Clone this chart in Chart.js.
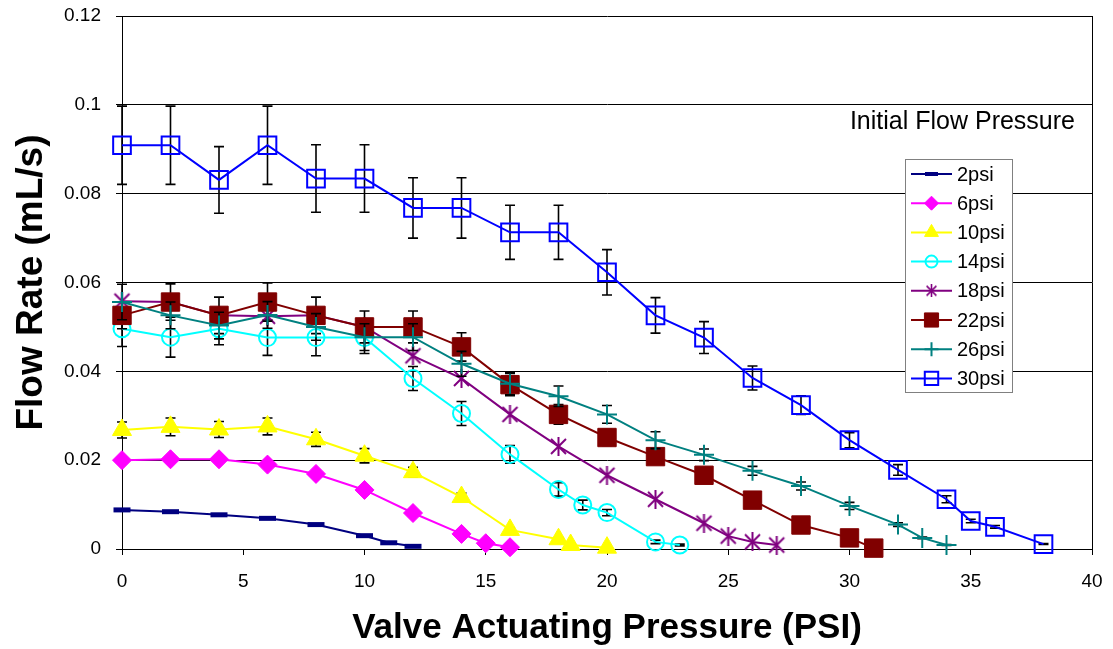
<!DOCTYPE html>
<html>
<head>
<meta charset="utf-8">
<script src="https://cdn.jsdelivr.net/npm/chart.js@4"></script>
<style>
  body { margin: 0; background: #fff; }
  canvas { display: block; }
</style>
</head>
<body>
<canvas id="flowChart" width="1113" height="649"></canvas>
<script>
// valve actuating pressure (x) and flow rate (y) per initial flow pressure
const vap2 = [0, 2, 4, 6, 8, 10, 11, 12];
const flow2 = [0.0088, 0.0084, 0.0077, 0.0069, 0.0055, 0.003, 0.0014, 0.0006];

const vap6 = [0, 2, 4, 6, 8, 10, 12, 14, 15, 16];
const flow6 = [0.02, 0.0202, 0.0202, 0.019, 0.0169, 0.0133, 0.0081, 0.0034, 0.0013, 0.0004];

const vap10 = [0, 2, 4, 6, 8, 10, 12, 14, 16, 18, 18.5, 20];
const flow10 = [0.0268, 0.0275, 0.0269, 0.0276, 0.0247, 0.021, 0.0173, 0.0117, 0.0043, 0.0022, 0.0009, 0.0003];
const err10 = [0.0018, 0.002, 0.0018, 0.0019, 0.0016, 0.0016, 0.0011, 0.0009, 0.0004, 0.0003, 0.0002, 0.0001];

const vap14 = [0, 2, 4, 6, 8, 10, 12, 14, 16, 18, 19, 20, 22, 23];
const flow14 = [0.0496, 0.0477, 0.0496, 0.0476, 0.0476, 0.0476, 0.0384, 0.0305, 0.0213, 0.0134, 0.0099, 0.0082, 0.0016, 0.0009];
const err14 = [0.004, 0.0045, 0.0036, 0.004, 0.0041, 0.0036, 0.0027, 0.0027, 0.002, 0.0015, 0.0011, 0.0007, 0.0004, 0.0002];

const vap18 = [0, 2, 4, 6, 8, 10, 12, 14, 16, 18, 20, 22, 24, 25, 26, 27];
const flow18 = [0.0558, 0.0556, 0.0526, 0.0524, 0.0526, 0.05, 0.0435, 0.0384, 0.0303, 0.0231, 0.0166, 0.0112, 0.0058, 0.0029, 0.0016, 0.0009];

const vap22 = [0, 2, 4, 6, 8, 10, 12, 14, 16, 18, 20, 22, 24, 26, 28, 30, 31];
const flow22 = [0.0526, 0.0556, 0.0526, 0.0556, 0.0526, 0.05, 0.05, 0.0455, 0.037, 0.0303, 0.0251, 0.0208, 0.0166, 0.011, 0.0054, 0.0025, 0.0002];
const err22 = [0.003, 0.0041, 0.0041, 0.0043, 0.0041, 0.0036, 0.0036, 0.0032, 0.0025, 0.0022, 0.0018, 0.0015, 0.0012, 0.001, 0.0008, 0.0005, 0.0002];

const vap26 = [0, 2, 4, 6, 8, 10, 12, 14, 16, 18, 20, 22, 24, 26, 28, 30, 32, 33, 34];
const flow26 = [0.0556, 0.0526, 0.0503, 0.0527, 0.05, 0.0477, 0.0477, 0.0417, 0.0372, 0.0344, 0.0303, 0.0245, 0.0212, 0.0176, 0.0142, 0.0097, 0.0055, 0.0025, 0.0009];
const err26 = [0.004, 0.003, 0.003, 0.003, 0.003, 0.003, 0.003, 0.0028, 0.0025, 0.0023, 0.002, 0.0019, 0.0013, 0.001, 0.0009, 0.0008, 0.0004, 0.0002, 0.0001];

const vap30 = [0, 2, 4, 6, 8, 10, 12, 14, 16, 18, 20, 22, 24, 26, 28, 30, 32, 34, 35, 36, 38];
const flow30 = [0.0909, 0.0909, 0.0831, 0.0909, 0.0834, 0.0834, 0.0768, 0.0768, 0.0713, 0.0713, 0.0623, 0.0526, 0.0476, 0.0385, 0.0324, 0.0245, 0.0178, 0.0112, 0.0063, 0.005, 0.0011];
const err30 = [0.0088, 0.0088, 0.0075, 0.0088, 0.0076, 0.0076, 0.0068, 0.0068, 0.0061, 0.0061, 0.0051, 0.004, 0.0036, 0.0027, 0.0021, 0.0017, 0.0012, 0.0008, 0.0004, 0.0003, 0.0001];

const seriesNames = ['2psi', '6psi', '10psi', '14psi', '18psi', '22psi', '26psi', '30psi'];
const xTickLabels = ['0', '5', '10', '15', '20', '25', '30', '35', '40'];
const yTickLabels = ['0', '0.02', '0.04', '0.06', '0.08', '0.1', '0.12'];

const FONT = '"Liberation Sans", Arial, sans-serif';

// asterisk marker: an X with a vertical stroke
function makeStar(size, color, lw) {
    const c = document.createElement('canvas');
    c.width = size; c.height = size;
    const g = c.getContext('2d');
    const m = lw, s = size - lw;
    g.strokeStyle = color;
    g.lineWidth = lw;
    g.beginPath();
    g.moveTo(m, m); g.lineTo(s, s);
    g.moveTo(s, m); g.lineTo(m, s);
    g.moveTo(size / 2, 0); g.lineTo(size / 2, size);
    g.stroke();
    return c;
}

const pairs = (xs, ys) => xs.map((x, i) => ({ x: x, y: ys[i] }));

const styles = [
    { color: '#000080', pointStyle: 'line', radius: 8.5, pointBorderWidth: 5, fill: '#000080', legendRadius: 6.5 },
    { color: '#FF00FF', pointStyle: 'rectRot', radius: 9.5, pointBorderWidth: 1, fill: '#FF00FF', legendRadius: 7 },
    { color: '#FFFF00', pointStyle: 'triangle', radius: 11, pointBorderWidth: 1, fill: '#FFFF00', legendRadius: 8 },
    { color: '#00FFFF', pointStyle: 'circle', radius: 8.5, pointBorderWidth: 2, fill: 'transparent', legendRadius: 6 },
    { color: '#800080', pointStyle: makeStar(19, '#800080', 2), radius: 9, pointBorderWidth: 1, fill: '#800080',
      legendStyle: makeStar(13, '#800080', 1.6), legendRadius: 6 },
    { color: '#800000', pointStyle: 'rect', radius: 13, pointBorderWidth: 1, fill: '#800000', legendRadius: 10 },
    { color: '#008080', pointStyle: 'cross', radius: 10, pointBorderWidth: 2, fill: '#008080', legendRadius: 7 },
    { color: '#0000FF', pointStyle: 'rect', radius: 12.5, pointBorderWidth: 2, fill: 'transparent', legendRadius: 9.5 }
];

const seriesData = [
    [vap2, flow2, null],
    [vap6, flow6, null],
    [vap10, flow10, err10],
    [vap14, flow14, err14],
    [vap18, flow18, null],
    [vap22, flow22, err22],
    [vap26, flow26, err26],
    [vap30, flow30, err30]
];

const datasets = seriesData.map((s, i) => ({
    label: seriesNames[i],
    data: pairs(s[0], s[1]),
    errors: s[2],
    order: seriesData.length - i,
    clip: false,
    borderColor: styles[i].color,
    borderWidth: 2,
    tension: 0,
    fill: false,
    pointStyle: styles[i].pointStyle,
    pointRadius: styles[i].radius,
    pointBackgroundColor: styles[i].fill,
    pointBorderColor: styles[i].color,
    pointBorderWidth: styles[i].pointBorderWidth
}));

// black error bars, drawn just before their own series
const errorBars = {
    id: 'errorBars',
    beforeDatasetDraw(chart, args) {
        const ds = chart.data.datasets[args.index];
        if (!ds.errors) return;
        const y = chart.scales.y;
        const ctx = chart.ctx;
        ctx.save();
        ctx.strokeStyle = '#000';
        ctx.lineWidth = 1.6;
        args.meta.data.forEach((pt, i) => {
            const e = ds.errors[i];
            if (!e) return;
            const v = ds.data[i].y;
            const top = y.getPixelForValue(v + e);
            const bot = y.getPixelForValue(v - e);
            const cap = 5;
            ctx.beginPath();
            ctx.moveTo(pt.x, top); ctx.lineTo(pt.x, bot);
            ctx.moveTo(pt.x - cap, top); ctx.lineTo(pt.x + cap, top);
            ctx.moveTo(pt.x - cap, bot); ctx.lineTo(pt.x + cap, bot);
            ctx.stroke();
        });
        ctx.restore();
    }
};

// right edge of the plot frame
const frame = {
    id: 'frame',
    beforeDatasetsDraw(chart) {
        const { ctx, chartArea } = chart;
        ctx.save();
        ctx.strokeStyle = '#000';
        ctx.lineWidth = 1;
        ctx.beginPath();
        const xr = Math.round(chartArea.right) + 0.5;
        ctx.moveTo(xr, chartArea.top);
        ctx.lineTo(xr, chartArea.bottom);
        ctx.stroke();
        ctx.restore();
    }
};

// boxed legend with line + marker samples, plus the legend heading
const boxLegend = {
    id: 'boxLegend',
    afterDraw(chart) {
        const ctx = chart.ctx;
        const left = 905, top = 159, w = 107, h = 233;
        const rowH = 29.2, firstY = 174;
        ctx.save();
        ctx.font = '25px ' + FONT;
        ctx.fillStyle = '#000';
        ctx.textAlign = 'right';
        ctx.textBaseline = 'middle';
        ctx.fillText('Initial Flow Pressure', 1075, 122);

        ctx.fillStyle = '#fff';
        ctx.fillRect(left, top, w, h);
        ctx.strokeStyle = '#808080';
        ctx.lineWidth = 1;
        ctx.strokeRect(left + 0.5, top + 0.5, w, h);

        ctx.font = '20px ' + FONT;
        ctx.textAlign = 'left';
        chart.data.datasets.forEach((ds, i) => {
            const yy = firstY + i * rowH;
            const st = styles[i];
            ctx.strokeStyle = st.color;
            ctx.lineWidth = 2;
            ctx.beginPath();
            ctx.moveTo(911, yy); ctx.lineTo(952, yy);
            ctx.stroke();
            ctx.fillStyle = st.fill;
            ctx.strokeStyle = st.color;
            ctx.lineWidth = i === 0 ? 4 : st.pointBorderWidth;
            Chart.helpers.drawPoint(ctx, {
                pointStyle: st.legendStyle || st.pointStyle,
                radius: st.legendRadius,
                borderWidth: ctx.lineWidth,
                rotation: 0
            }, 931.5, yy);
            ctx.fillStyle = '#000';
            ctx.fillText(ds.label, 957, yy + 1);
        });
        ctx.restore();
    }
};

const tickFont = { family: FONT, size: 19 };

new Chart(document.getElementById('flowChart').getContext('2d'), {
    type: 'line',
    data: { datasets: datasets },
    options: {
        responsive: false,
        animation: false,
        layout: { padding: { left: 0, right: 21, top: 16, bottom: 0 } },
        plugins: {
            legend: { display: false },
            tooltip: { enabled: false }
        },
        scales: {
            x: {
                type: 'linear',
                min: 0,
                max: 40,
                ticks: {
                    stepSize: 5,
                    color: '#000',
                    font: tickFont,
                    padding: 15,
                    maxRotation: 0,
                    callback: (v, i) => xTickLabels[i]
                },
                grid: { drawOnChartArea: false, color: '#000', tickColor: '#000', tickLength: 6 },
                border: { color: '#000', width: 1 },
                title: {
                    display: true,
                    text: 'Valve Actuating Pressure (PSI)',
                    color: '#000',
                    font: { family: FONT, size: 35, weight: 'bold' },
                    padding: { top: 0, bottom: 0 }
                },
                afterFit(scale) {
                    scale.height = 100;
                    scale.paddingLeft = 0;
                    scale.paddingRight = 0;
                }
            },
            y: {
                min: 0,
                max: 0.12,
                ticks: {
                    stepSize: 0.02,
                    color: '#000',
                    font: tickFont,
                    padding: 15,
                    callback: (v, i) => yTickLabels[i]
                },
                grid: { color: '#000', tickColor: '#000', tickLength: 6 },
                border: { color: '#000', width: 1 },
                title: {
                    display: true,
                    text: 'Flow Rate (mL/s)',
                    color: '#000',
                    font: { family: FONT, size: 37, weight: 'bold' },
                    padding: { top: 10, bottom: 0 }
                },
                afterFit(scale) {
                    scale.width = 122;
                    scale.paddingTop = 0;
                    scale.paddingBottom = 0;
                }
            }
        }
    },
    plugins: [errorBars, frame, boxLegend]
});
</script>
</body>
</html>
